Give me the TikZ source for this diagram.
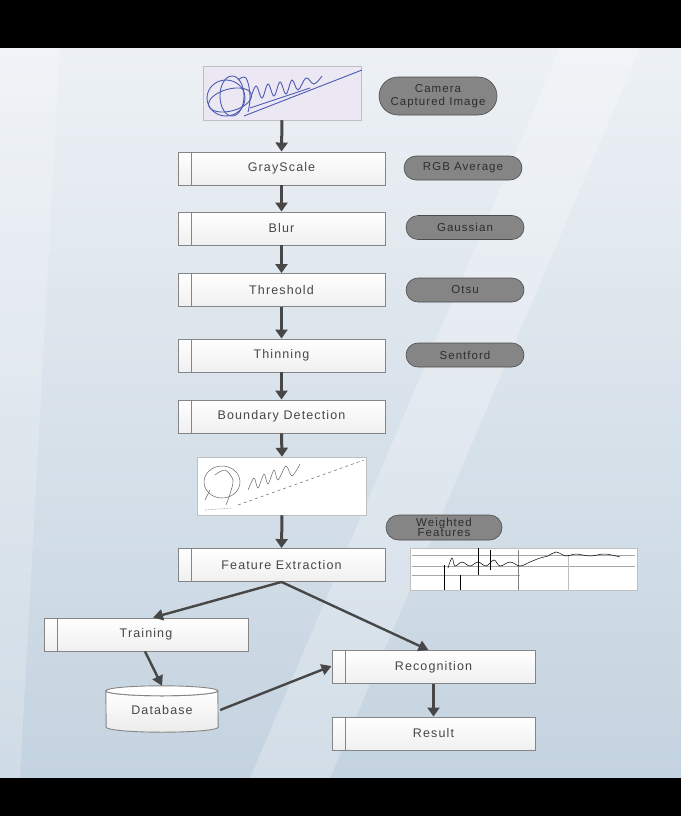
\documentclass[tikz,border=0pt]{standalone}
\usepackage{fontspec}
\setmainfont{Liberation Sans}[LetterSpace=9]
\usetikzlibrary{arrows.meta,shapes.geometric,shapes.misc,calc}
\definecolor{bgtop}{HTML}{EDF1F5}
\definecolor{bgbot}{HTML}{C4D3E0}
\definecolor{boxline}{HTML}{858585}
\definecolor{boxtext}{HTML}{474747}
\definecolor{pillfill}{HTML}{858585}
\definecolor{pilltext}{HTML}{2E2E2E}
\definecolor{arrowcol}{HTML}{474747}
\definecolor{sigblue}{HTML}{4A5AB0}
\definecolor{lav}{HTML}{ECE8F3}
\begin{document}
\begin{tikzpicture}[x=1pt,y=-1pt,
  procbox/.style={draw=boxline, line width=0.9pt, top color=white, bottom color=gray!12,
    minimum width=207pt, minimum height=33pt, inner sep=0pt,
    font=\fontsize{12.5}{14}\selectfont, text=boxtext,
    path picture={\draw[boxline,line width=0.9pt]
      ([xshift=13pt]path picture bounding box.north west) --
      ([xshift=13pt]path picture bounding box.south west);}},
  pill/.style={rounded rectangle, fill=pillfill, draw=gray!60!black, line width=0.6pt,
    minimum width=120pt, minimum height=24pt, inner sep=1pt,
    font=\fontsize{11.5}{12.5}\selectfont, text=pilltext, align=center},
  imgbox/.style={draw=gray!50, line width=0.5pt, inner sep=0pt},
  flow/.style={draw=arrowcol, line width=3pt, -{Triangle[width=12pt,length=9pt]}},
  flowthin/.style={draw=arrowcol, line width=2.4pt, -{Triangle[width=11pt,length=10pt]}}
]
\useasboundingbox (0,0) rectangle (681,816);
% background
\shade[top color=bgtop, bottom color=bgbot] (0,48) rectangle (681,778);
\fill[white, opacity=0.25] (560,48) -- (640,48) -- (330,778) -- (250,778) -- cycle;
\fill[white, opacity=0.2] (0,48) -- (60,48) -- (20,778) -- (0,778) -- cycle;
\fill[black] (0,0) rectangle (681,48);
\fill[black] (0,778) rectangle (681,816);

% images
\node[imgbox, fill=lav, minimum width=158pt, minimum height=54pt] (img1) at (282,93) {};
\node[imgbox, fill=white, minimum width=169pt, minimum height=58pt] (img2) at (282,486) {};
\node[imgbox, fill=white, minimum width=227pt, minimum height=42pt] (img3) at (523.5,569) {};

% signature 1 (blue)
\begin{scope}[sigblue, line width=0.9pt]
  \draw (226,98) ellipse (19pt and 18pt);
  \draw (232,96) ellipse (12pt and 20pt);
  \draw[rotate around={15:(230,100)}] (230,100) ellipse (22pt and 11pt);
  \draw plot[smooth, tension=0.7] coordinates {(238,80) (246,78) (250,96) (248,112)};
  \draw plot[smooth, tension=0.6] coordinates {(250,100) (256,86) (262,98) (268,84) (274,96) (280,82) (286,94) (292,80) (298,90) (306,78) (314,84) (322,76)};
  \draw (244,116) -- (362,70);
  \draw (250,108) -- (310,88);
\end{scope}

% signature 2 (thinned, grey)
\begin{scope}[gray!80!black, line width=0.5pt]
  \draw (222,482) ellipse (18pt and 16pt);
  \draw plot[smooth] coordinates {(215,475) (225,470) (233,480) (230,494) (226,505)};
  \draw (210,490) -- (205,500);
  \draw plot[smooth, tension=0.5] coordinates {(248,490) (254,478) (258,488) (264,474) (268,484) (274,470) (278,480) (286,466) (292,476) (300,464)};
  \draw[dashed] (238,505) -- (364,460);
  \draw[densely dotted] (205,510) -- (232,508);
\end{scope}

% feature image
\begin{scope}[line width=0.5pt]
  \draw[gray!70] (412,555) -- (635,555);
  \draw[gray!70] (412,566) -- (635,566);
  \draw[gray!70] (412,575) -- (520,575);
  \draw[black] (444,565) -- (444,590);
  \draw[black] (460,575) -- (460,590);
  \draw[black] (478,548) -- (478,575);
  \draw[black] (490,550) -- (490,570);
  \draw[gray] (518,550) -- (518,590);
  \draw[gray!50] (568,555) -- (568,590);
  \draw[black] plot[smooth, tension=0.6] coordinates {(448,568) (452,558) (455,566) (462,562) (470,566) (478,562) (486,566) (494,560) (500,566) (510,562) (520,566) (530,562) (540,558) (548,556) (556,552) (566,556) (576,554) (590,556) (605,554) (620,557)};
\end{scope}

% process boxes
\node[procbox] (gray)     at (281.5,168.5) {GrayScale};
\node[procbox] (blur)     at (281.5,228.5) {Blur};
\node[procbox] (thresh)   at (281.5,290)   {Threshold};
\node[procbox] (thin)     at (281.5,355.5) {Thinning};
\node[procbox] (bound)    at (281.5,416.5) {Boundary Detection};
\node[procbox] (feat)     at (281.5,565)   {Feature Extraction};
\node[procbox, minimum width=204pt] (train)  at (146,634.5) {Training};
\node[procbox, minimum width=203pt] (recog)  at (433.5,667) {Recognition};
\node[procbox, minimum width=203pt] (result) at (433.5,733.5) {Result};

% database cylinder
\node[minimum width=112pt, minimum height=46pt, inner sep=0pt] (db) at (162,709) {};
\draw[boxline, line width=0.9pt, top color=white, bottom color=gray!15]
  ([yshift=-5pt]db.north west) arc[start angle=180, end angle=360, x radius=56pt, y radius=5pt]
  -- ([yshift=5pt]db.south east)
  arc[start angle=0, end angle=-180, x radius=56pt, y radius=5pt] -- cycle;
\draw[boxline, line width=0.9pt, fill=white]
  ([yshift=-5pt]db.north west) arc[start angle=180, end angle=-180, x radius=56pt, y radius=5pt];
\node[font=\fontsize{12.5}{14}\selectfont, text=boxtext] at ([yshift=-1pt]db.center) {Database};

% pills
\node[pill, minimum height=38pt] (cam) at (438,96) {Camera\\Captured Image};
\node[pill] (rgb)   at (463,168)   {RGB Average};
\node[pill] (gauss) at (465,227.5) {Gaussian};
\node[pill] (otsu)  at (465,290)   {Otsu};
\node[pill] (sent)  at (465,355)   {Sentford};
\node[pill, minimum width=118pt, minimum height=25pt, font=\fontsize{11.5}{10.5}\selectfont] (wf) at (444,527.5) {Weighted\\Features};

% arrows
\draw[flow] (img1.south) -- (gray.north);
\draw[flow] (gray.south) -- (blur.north);
\draw[flow] (blur.south) -- (thresh.north);
\draw[flow] (thresh.south) -- (thin.north);
\draw[flow] (thin.south) -- (bound.north);
\draw[flow] (bound.south) -- (img2.north);
\draw[flow] (img2.south) -- (feat.north);
\draw[flowthin] (feat.south) -- ([xshift=7pt]train.north);
\draw[flowthin] (feat.south) -- ([xshift=-5pt]recog.north);
\draw[flowthin] ([xshift=-1pt]train.south) -- (db.north);
\draw[flowthin] ([xshift=2pt,yshift=-1pt]db.east) -- ([yshift=1pt]recog.west);
\draw[flow] (recog.south) -- (result.north);
\end{tikzpicture}
\end{document}
